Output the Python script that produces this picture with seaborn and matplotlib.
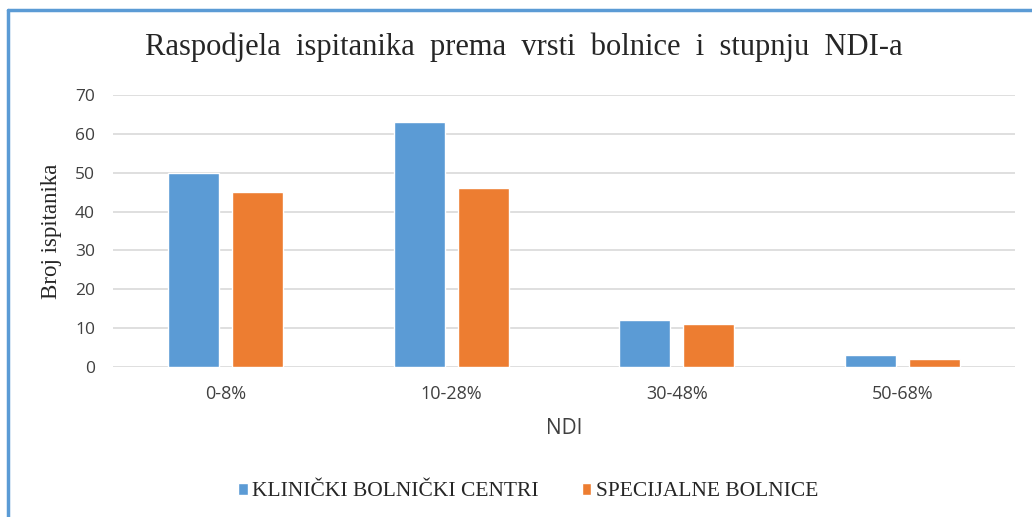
import numpy as np
import pandas as pd
import matplotlib.pyplot as plt
import matplotlib.lines as mlines
import seaborn as sns

categories = ["0-8%", "10-28%", "30-48%", "50-68%"]
series_names = ["KLINIČKI BOLNIČKI CENTRI", "SPECIJALNE BOLNICE"]
klinicki = [50, 63, 12, 3]
specijalne = [45, 46, 11, 2]
y_ticks = [0, 10, 20, 30, 40, 50, 60, 70]

colors = ["#5B9BD5", "#ED7D31"]

df = pd.DataFrame(
    {
        "NDI": categories * 2,
        "Bolnica": [series_names[0]] * len(categories) + [series_names[1]] * len(categories),
        "Broj": klinicki + specijalne,
    }
)

sns.set_style("white")
plt.rcParams["font.family"] = ["Open Sans", "DejaVu Sans"]

fig = plt.figure(figsize=(10.32, 5.17), dpi=100)
ax = fig.add_axes([113 / 1032, 1 - 367 / 517, 902 / 1032, 272 / 517])

sns.barplot(
    data=df,
    x="NDI",
    y="Broj",
    hue="Bolnica",
    palette=colors,
    width=0.57,
    gap=0.21,
    saturation=1,
    legend=True,
    ax=ax,
)

ax.set_ylim(0, 70)
ax.set_xlim(-0.5, 3.5)
ax.set_yticks(y_ticks)
ax.set_yticklabels([str(t) for t in y_ticks], fontsize=12.5, color="#404040")
ax.tick_params(axis="x", labelsize=13, labelcolor="#404040", pad=13, length=0)
ax.tick_params(axis="y", pad=13, length=0)
ax.grid(axis="y", color="#D9D9D9", linewidth=1.2)
ax.set_axisbelow(True)
for s in ax.spines.values():
    s.set_visible(False)

ax.set_xlabel("NDI", fontsize=15, color="#404040")
ax.xaxis.set_label_coords(0.5, -(429 - 367) / 272)
ax.xaxis.label.set_va("center")
ax.set_ylabel("Broj ispitanika", fontsize=16.5, family=["Liberation Serif"])
ax.yaxis.set_label_coords(-(113 - 52) / 902, 0.5)
ax.yaxis.label.set_va("center")

fig.text(
    524 / 1032,
    1 - 47 / 517,
    "Raspodjela  ispitanika  prema  vrsti  bolnice  i  stupnju  NDI-a",
    ha="center",
    va="center",
    fontsize=22,
    family=["Liberation Serif"],
)

handles, labels = ax.get_legend_handles_labels()
ax.get_legend().remove()
fig.legend(
    handles,
    labels,
    loc="center",
    bbox_to_anchor=(528 / 1032, 1 - 492 / 517),
    ncol=2,
    frameon=False,
    handlelength=0.45,
    handleheight=0.45,
    handletextpad=0.2,
    columnspacing=2.0,
    prop={"family": "Liberation Serif", "size": 15.5},
)

# chart frame border (top and left only)
fig.add_artist(mlines.Line2D([8 / 1032, 1], [1 - 10 / 517, 1 - 10 / 517], color="#5B9BD5", linewidth=2.5))
fig.add_artist(mlines.Line2D([8 / 1032, 8 / 1032], [0, 1 - 10 / 517], color="#5B9BD5", linewidth=2.5))

fig.savefig("out.png", dpi=100)
